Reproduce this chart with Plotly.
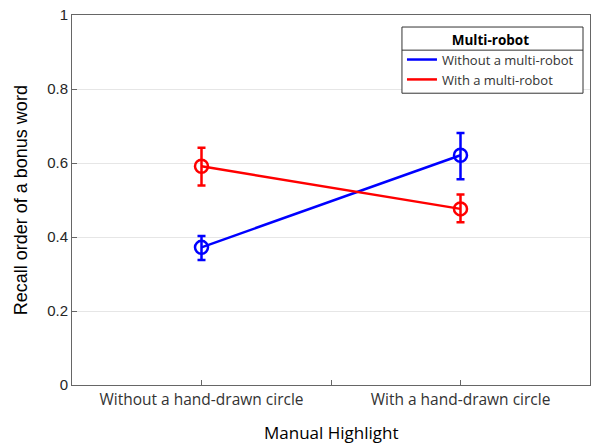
import plotly.graph_objects as go

categories = ["Without a hand-drawn circle", "With a hand-drawn circle"]
x_pos = [1, 2]
without_mean = [0.372, 0.621]
without_lo = [0.338, 0.556]
without_hi = [0.403, 0.681]
with_mean = [0.591, 0.476]
with_lo = [0.539, 0.440]
with_hi = [0.641, 0.515]
series_names = ["Without a multi-robot", "With a multi-robot"]
colors = ["#0000ff", "#ff0000"]

fig = go.Figure()
for name, mean, lo, hi, c in [
    (series_names[0], without_mean, without_lo, without_hi, colors[0]),
    (series_names[1], with_mean, with_lo, with_hi, colors[1]),
]:
    fig.add_trace(go.Scatter(
        x=x_pos, y=mean, mode="lines+markers", showlegend=False,
        line=dict(color=c, width=2.5),
        marker=dict(symbol="circle-open", size=13, color=c, line=dict(width=2.5, color=c)),
        error_y=dict(type="data", symmetric=False,
                     array=[h - m for h, m in zip(hi, mean)],
                     arrayminus=[m - l for m, l in zip(mean, lo)],
                     color=c, thickness=2.5, width=4),
    ))
for name, c in zip(series_names, colors):
    fig.add_trace(go.Scatter(x=[None], y=[None], mode="lines", name=name,
                             line=dict(color=c, width=2.5)))

fig.update_layout(
    width=591, height=445,
    margin=dict(l=72, r=1, t=15, b=60),
    paper_bgcolor="white", plot_bgcolor="white",
    font=dict(family="Liberation Sans, Arial", color="#262626"),
    legend=dict(
        x=0.637, y=0.9675, xanchor="left", yanchor="top",
        bgcolor="rgba(0,0,0,0)", borderwidth=0,
        title=dict(text="<b>Multi-robot</b>", side="top center",
                   font=dict(family="Open Sans", size=13.5, color="#000")),
        font=dict(family="Open Sans", size=13, color="#333"),
        itemwidth=30, tracegroupgap=0,
    ),
    xaxis=dict(
        range=[0.5, 2.5], tickvals=[1, 1.5, 2],
        ticktext=[categories[0], "", categories[1]],
        ticks="inside", ticklen=5, tickcolor="#666",
        showline=True, linecolor="#666", linewidth=1, mirror=True,
        showgrid=False, zeroline=False, automargin=False,
        tickfont=dict(family="Open Sans", size=15.5, color="#333"),
    ),
    yaxis=dict(
        range=[0, 1], tickvals=[0, 0.2, 0.4, 0.6, 0.8, 1],
        ticktext=["0", "0.2", "0.4", "0.6", "0.8", "1"],
        ticks="inside", ticklen=5, tickcolor="#666",
        showline=True, linecolor="#666", linewidth=1, mirror=True,
        showgrid=True, gridcolor="#e6e6e6", zeroline=False, automargin=False,
        tickfont=dict(size=15, color="#262626"),
    ),
)
fig.add_annotation(text="Recall order of a bonus word", xref="paper", yref="paper",
                   x=-0.098, y=0.5, xanchor="center", yanchor="middle", textangle=-90,
                   showarrow=False, font=dict(size=18, color="#000"))
fig.add_annotation(text="Manual Highlight", xref="paper", yref="paper",
                   x=0.5, y=-0.128, xanchor="center", yanchor="middle",
                   showarrow=False, font=dict(family="Open Sans", size=17, color="#000"))
fig.add_shape(type="rect", xref="paper", yref="paper", x0=0.637, x1=0.9865, y0=0.7886, y1=0.9675,
              fillcolor="white", line=dict(color="#333", width=1), layer="above")
fig.add_shape(type="line", xref="paper", yref="paper", x0=0.637, x1=0.9865, y0=0.905, y1=0.905,
              line=dict(color="#333", width=1), layer="above")
fig.write_html("out.html", config={"displayModeBar": False},
               post_script="document.body.style.margin='0';document.body.style.overflow='hidden';")
